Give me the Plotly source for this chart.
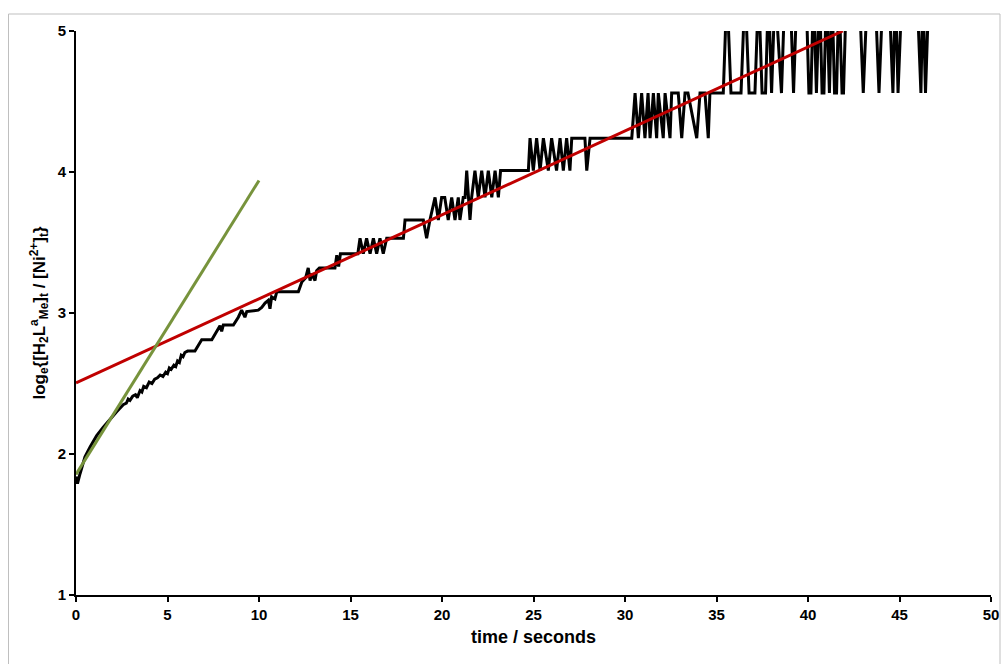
import plotly.graph_objects as go

# ---- data ----
time_s = [
    0.00, 0.08, 0.22, 0.49, 0.77, 1.13, 1.49, 1.86, 2.22, 2.58, 2.75, 2.85, 2.95, 3.10, 3.25,
    3.35, 3.50, 3.60, 3.70, 3.85, 4.00, 4.15, 4.30, 4.45, 4.60, 4.75, 4.90, 5.00, 5.10, 5.20,
    5.35, 5.45, 5.55, 5.65, 5.75, 5.85, 5.95, 6.10, 6.50,
    6.68, 6.87, 7.42, 7.69, 7.87, 7.96, 8.05, 8.60, 8.87, 9.05, 9.23, 9.33, 9.96, 10.15, 10.33,
    10.51, 10.60, 10.69, 10.87, 10.97, 12.15, 12.34, 12.55, 12.69, 12.79, 12.88, 13.06, 13.15, 13.30,
    14.15, 14.25, 14.35, 14.45, 15.40, 15.52, 15.70, 15.88, 16.07, 16.25, 16.43, 16.61, 16.79, 16.98,
    17.89, 17.98, 18.98, 19.16, 19.34, 19.62, 19.80, 19.98, 20.15, 20.34, 20.53, 20.71, 20.89, 20.98,
    21.16, 21.26, 21.35, 21.44, 21.53, 21.62, 21.80, 21.98, 22.17, 22.35, 22.53, 22.72, 22.90, 23.08,
    23.20, 24.72,
    24.81, 24.99, 25.17, 25.36, 25.54, 25.81, 25.99, 26.26, 26.45, 26.63, 26.81, 26.99, 27.09, 27.81,
    27.91, 28.09, 30.37, 30.55, 30.73, 30.91, 31.09, 31.26, 31.37, 31.55, 31.73, 31.82, 32.09, 32.19,
    32.46, 32.55, 32.91, 33.10, 33.28, 33.44, 33.92, 34.10, 34.37, 34.55, 34.64, 35.37,
    35.57, 35.79, 36.34, 36.56, 36.78, 37.10, 37.30, 37.49, 37.68, 37.84, 38.01, 38.20, 38.55, 38.74,
    39.02, 39.21, 39.40, 39.89, 40.05, 40.16, 40.30, 40.46, 40.63, 40.77, 40.87, 41.01, 41.17, 41.31,
    41.45, 41.56, 41.69, 41.86, 41.94, 42.10, 42.79, 43.02, 43.25, 43.66, 43.88, 44.10, 44.42, 44.64,
    44.78, 44.92, 45.14, 45.95, 46.17, 46.28, 46.42, 46.61,
]

log_ratio = [
    1.84, 1.79, 1.86, 1.98, 2.05, 2.13, 2.19, 2.25, 2.30, 2.35, 2.36, 2.39, 2.38, 2.41, 2.42,
    2.40, 2.45, 2.44, 2.48, 2.47, 2.51, 2.50, 2.53, 2.54, 2.56, 2.55, 2.58, 2.57, 2.61, 2.60,
    2.63, 2.62, 2.66, 2.65, 2.70, 2.69, 2.72, 2.73, 2.73,
    2.77, 2.81, 2.81, 2.87, 2.91, 2.87, 2.915, 2.915, 2.97, 3.02, 2.97, 3.01, 3.02, 3.04, 3.07,
    3.09, 3.03, 3.115, 3.10, 3.15, 3.15, 3.22, 3.25, 3.32, 3.23, 3.28, 3.23, 3.30, 3.32,
    3.32, 3.41, 3.33, 3.42, 3.42, 3.53, 3.42, 3.53, 3.42, 3.53, 3.42, 3.53, 3.42, 3.53,
    3.53, 3.66, 3.66, 3.53, 3.66, 3.82, 3.66, 3.82, 3.82, 3.66, 3.82, 3.66, 3.82, 3.66,
    3.82, 3.82, 4.01, 3.82, 3.66, 3.82, 4.01, 3.82, 4.01, 3.82, 4.01, 3.82, 4.01, 3.82,
    4.01, 4.01,
    4.24, 4.01, 4.24, 4.01, 4.24, 4.01, 4.24, 4.01, 4.24, 4.01, 4.24, 4.01, 4.24, 4.24,
    4.01, 4.24, 4.24, 4.56, 4.24, 4.56, 4.24, 4.56, 4.24, 4.56, 4.24, 4.56, 4.24, 4.56,
    4.24, 4.56, 4.56, 4.24, 4.56, 4.56, 4.24, 4.56, 4.56, 4.24, 4.56, 4.56,
    5.30, 4.56, 4.56, 5.30, 4.56, 4.56, 5.30, 4.56, 4.56, 5.30, 4.56, 5.30, 4.56, 5.30,
    5.30, 4.56, 5.30, 5.30, 4.56, 4.56, 5.30, 4.56, 5.30, 4.56, 4.56, 5.30, 4.56, 5.30,
    4.56, 4.56, 5.30, 4.56, 4.56, 5.30, 5.30, 4.56, 5.30, 5.30, 4.56, 5.30, 5.30, 4.56,
    5.30, 4.56, 5.30, 5.30, 4.56, 5.30, 4.56, 5.30,
]

# fitted lines (end points)
fit_late_t = [0.0, 41.9]
fit_late_y = [2.505, 5.0]
fit_early_t = [0.0, 10.0]
fit_early_y = [1.855, 3.94]

x_ticks = [0, 5, 10, 15, 20, 25, 30, 35, 40, 45, 50]
y_ticks = [1, 2, 3, 4, 5]

FONT = "Liberation Sans Narrow, Liberation Sans, Arial, sans-serif"

fig = go.Figure()
fig.add_trace(go.Scatter(x=time_s, y=log_ratio, mode="lines",
                         line=dict(color="#000000", width=3), hoverinfo="skip"))
fig.add_trace(go.Scatter(x=fit_late_t, y=fit_late_y, mode="lines",
                         line=dict(color="#C00000", width=3), hoverinfo="skip"))
fig.add_trace(go.Scatter(x=fit_early_t, y=fit_early_y, mode="lines",
                         line=dict(color="#77933C", width=3), hoverinfo="skip"))

fig.update_layout(
    width=1004, height=664,
    margin=dict(l=76, r=13, t=31, b=69),
    paper_bgcolor="white", plot_bgcolor="white",
    showlegend=False,
    font=dict(family=FONT, color="#000000"),
)
fig.update_xaxes(
    range=[0, 50], tickvals=x_ticks, ticktext=[str(v) for v in x_ticks],
    showgrid=False, zeroline=False, showline=True, linecolor="#000000", linewidth=2,
    ticks="outside", ticklen=5, tickwidth=1.5, tickcolor="#000000",
    tickfont=dict(family=FONT, size=15, weight="bold"),
    title=dict(text="time / seconds", font=dict(family=FONT, size=18, weight="bold"), standoff=8),
    automargin=False,
)
fig.update_yaxes(
    range=[1, 5], tickvals=y_ticks, ticktext=[str(v) for v in y_ticks],
    showgrid=False, zeroline=False, showline=True, linecolor="#000000", linewidth=2,
    ticks="outside", ticklen=5, tickwidth=1.5, tickcolor="#000000",
    tickfont=dict(family=FONT, size=15, weight="bold"),
    title=dict(text="log<sub>e</sub>{[H<sub>2</sub>L<sup>a</sup><sub>Me</sub>]<sub>t</sub> / [Ni<sup>2+</sup>]<sub>t</sub>}",
               font=dict(family=FONT, size=17, weight="bold"), standoff=8),
    automargin=False,
)
# chart-area border
fig.add_shape(type="rect", xref="paper", yref="paper",
              x0=-67.5 / 915, x1=924 / 915, y0=-80 / 564, y1=581 / 564,
              line=dict(color="#BFBFBF", width=1), fillcolor="rgba(0,0,0,0)", layer="below")

fig.write_html(
    "out.html",
    config={"displayModeBar": False},
    post_script="document.body.style.margin='0';document.body.style.overflow='hidden';",
)
